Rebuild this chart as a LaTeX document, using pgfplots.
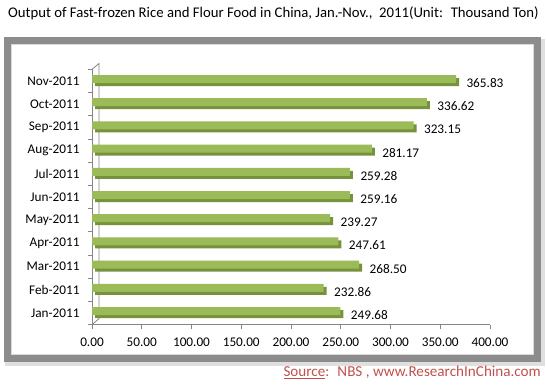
\documentclass[border=0pt]{standalone}
\usepackage{pgfplots}
\pgfplotsset{compat=1.18}
\usepackage{fontspec}
\setmainfont{Carlito}
\definecolor{barfront}{RGB}{155,187,89}
\definecolor{bartop}{RGB}{118,146,60}
\definecolor{axgray}{RGB}{134,134,134}
\definecolor{srcred}{RGB}{192,80,77}
\definecolor{framegray}{RGB}{140,140,140}

\pgfplotstableread{
i v
0 249.68
1 232.86
2 268.50
3 247.61
4 239.27
5 259.16
6 259.28
7 281.17
8 323.15
9 336.62
10 365.83
}\datatable

\begin{document}
\begin{tikzpicture}
\path[use as bounding box] (0bp,0bp) rectangle (546bp,-386bp);
% frame
\fill[gray!25] (5bp,-39bp) rectangle (545bp,-366bp);
\draw[line width=7bp, framegray] (7.5bp,-40.5bp) rectangle (537bp,-358.5bp);
\draw[line width=1bp, gray!30] (11.5bp,-44.5bp) rectangle (533bp,-354.5bp);
\fill[white] (12bp,-45bp) rectangle (532.5bp,-354bp);
% title
\node[font=\fontsize{14.8}{17}\selectfont, anchor=center, inner sep=0pt] at (273.5bp,-13bp)
  {Output of Fast-frozen Rice and Flour Food in China, Jan.-Nov.,~ 2011(Unit:~ Thousand Ton)};
% source
\node[font=\fontsize{15.2}{17}\selectfont, anchor=east, inner sep=0pt, text=srcred] at (541bp,-372bp)
  {\underline{Source}:~ NBS , www.ResearchInChina.com};
\begin{axis}[
  at={(92bp,-324.6bp)}, anchor=south west,
  scale only axis, width=398bp, height=255.2bp,
  xmin=0, xmax=400, ymin=-0.5, ymax=10.5,
  clip=false,
  axis x line*=bottom, axis y line*=left,
  axis line style={draw=axgray, line width=0.8bp},
  tick style={draw=axgray, line width=0.8bp},
  tick align=outside,
  major tick length=4bp,
  xtick={0,50,...,400},
  scaled x ticks=false,
  xticklabel style={yshift=-6bp, /pgf/number format/.cd, fixed, fixed zerofill, precision=2, assume math mode=true},
  ytick={-0.5,0.5,...,10.5},
  yticklabels={},
  extra y ticks={0,1,...,10},
  extra y tick labels={Jan-2011,Feb-2011,Mar-2011,Apr-2011,May-2011,Jun-2011,Jul-2011,Aug-2011,Sep-2011,Oct-2011,Nov-2011},
  extra y tick style={major tick length=0pt, yticklabel style={xshift=-9bp}},
  tick label style={font=\fontsize{13.3}{16}\selectfont, text=black},
]
\draw[axgray, line width=0.8bp] (axis cs:0,-0.5) -- ++(7bp,6bp) -- ([xshift=7bp,yshift=6bp]axis cs:0,10.5) -- (axis cs:0,10.5);
\addplot[xbar, bar width=8bp, bar shift=2bp, fill=bartop, draw=none, xshift=3bp, yshift=-3bp] table[x=v,y=i] {\datatable};
\addplot[xbar, bar width=8bp, bar shift=2bp, fill=barfront, draw=none,
  point meta=x,
  nodes near coords={\pgfmathprintnumber[fixed,fixed zerofill,precision=2,assume math mode=true]{\pgfplotspointmeta}},
  every node near coord/.append style={anchor=west, xshift=7bp, yshift=-2bp, font=\fontsize{13.3}{16}\selectfont, text=black}]
  table[x=v,y=i] {\datatable};
\end{axis}
\end{tikzpicture}
\end{document}
